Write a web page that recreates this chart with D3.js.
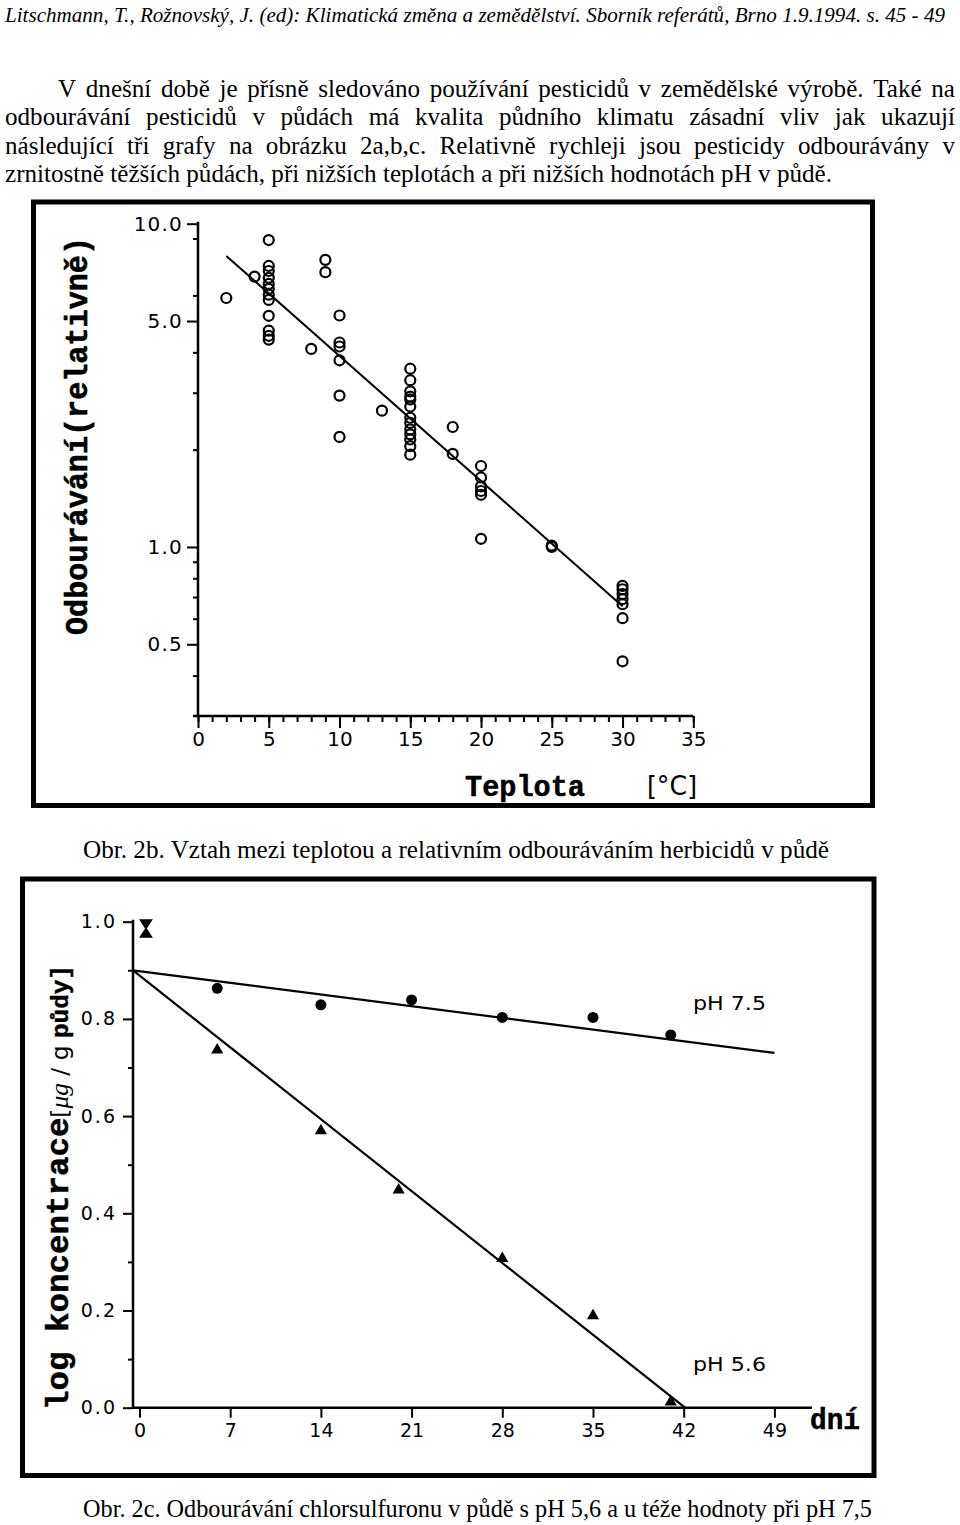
<!DOCTYPE html>
<html><head><meta charset="utf-8">
<script src="https://cdn.jsdelivr.net/npm/d3@7"></script>
<style>body{margin:0;background:#fff}svg{display:block}</style>
</head><body>
<svg id="c" width="960" height="1525"></svg>
<script>
// ---------- Texts ----------
const headerText = "Litschmann, T., Rožnovský, J. (ed): Klimatická změna a zemědělství. Sborník referátů, Brno 1.9.1994. s. 45 - 49";
const paragraphLines = [
  "V dnešní době je přísně sledováno používání pesticidů v zemědělské výrobě. Také na",
  "odbourávání pesticidů v půdách má kvalita půdního klimatu zásadní vliv jak ukazují",
  "následující tři grafy na obrázku 2a,b,c. Relativně rychleji jsou pesticidy odbourávány v",
  "zrnitostně těžších půdách, při nižších teplotách a při nižších hodnotách pH v půdě."
];
const caption2b = "Obr. 2b. Vztah mezi teplotou a relativním odbouráváním herbicidů v půdě";
const caption2c = "Obr. 2c. Odbourávání chlorsulfuronu v půdě s pH 5,6 a u téže hodnoty při pH 7,5";

// ---------- Chart 2b data (temperature vs relative degradation, log axis) ----------
const tempC = [2, 4,
  5,5,5,5,5,5,5,5,5,5,5,5,
  8, 9,9,
  10,10,10,10,10,10,
  13,
  15,15,15,15,15,15,15,15,15,15,15,15,15,
  18,18,
  20,20,20,20,20,20,
  25,25,
  30,30,30,30,30,30,30];
const relDecay = [5.89, 6.86,
  8.9,7.40,7.14,6.80,6.51,6.29,6.03,5.81,5.19,4.67,4.50,4.38,
  4.10, 7.73,7.08,
  5.20,4.29,4.17,3.78,2.94,2.19,
  2.64,
  3.56,3.28,3.03,2.92,2.86,2.72,2.51,2.42,2.31,2.23,2.15,2.05,1.93,
  2.35,1.94,
  1.78,1.64,1.54,1.49,1.45,1.06,
  1.00,1.01,
  0.758,0.740,0.715,0.690,0.665,0.602,0.443];
const fitTemp = [2, 30];
const fitDecay = [7.95, 0.656];
const tempTicks = [0,5,10,15,20,25,30,35];
const tempMinorTicks = d3.range(0, 36, 1);
const decayTicks = [10, 5, 1, 0.5];
const decayMinorTicks = [9, 6, 4, 3, 2, 0.9, 0.8, 0.7, 0.6, 0.4];
const decayAxisMin = 0.3;

// ---------- Chart 2c data (days vs log concentration) ----------
const days75 = [6, 14, 21, 28, 35, 41];
const conc75 = [0.863, 0.829, 0.839, 0.803, 0.803, 0.767];
const days56 = [6, 14, 20, 28, 35, 41];
const conc56 = [0.736, 0.570, 0.448, 0.307, 0.189, 0.012];
const startDay = [0.5];
const startConc = [0.986];
const fit75Days = [-0.5, 49];
const fit75Conc = [0.9, 0.73];
const fit56Days = [-0.5, 42.1];
const fit56Conc = [0.9, 0.0];
const dayTicks = [0, 7, 14, 21, 28, 35, 42, 49];
const concTicks = [0, 0.2, 0.4, 0.6, 0.8, 1.0];
const concMinorTicks = [0.1, 0.3, 0.5, 0.7, 0.9];
const dayAxisEnd = 51.9;

// ---------- Drawing ----------
const svg = d3.select('#c');
const SERIF = "'Liberation Serif','Times New Roman',serif";
const SANS = "'DejaVu Sans',sans-serif";
const MONO = "'Liberation Mono','Courier New',monospace";

// header
svg.append('text').attr('x', 5).attr('y', 22)
  .attr('font-family', SERIF).attr('font-style', 'italic').attr('font-size', 21)
  .attr('textLength', 940).attr('lengthAdjust', 'spacingAndGlyphs')
  .text(headerText);

// paragraph (justified, slightly condensed Times)
(function () {
  const FS = 24.5;
  const probe = svg.append('g').attr('font-family', SERIF).attr('font-size', FS);
  const pw = paragraphLines[3].split(' ').map(wd => {
    const t = probe.append('text').text(wd); const w = t.node().getComputedTextLength(); return w;
  });
  const spaceT = probe.append('text').text('a a'); const sa = probe.append('text').text('aa');
  const spW = spaceT.node().getComputedTextLength() - sa.node().getComputedTextLength();
  probe.remove();
  const natural = d3.sum(pw) + spW * (pw.length - 1);
  const k = 827 / natural;
  const specs = [[58, 955, 97], [5, 955, 125], [5, 955, 153.5], [5, 832, 182]];
  paragraphLines.forEach((line, li) => {
    const [x0, x1, y] = specs[li];
    const words = line.split(' ');
    const g = svg.append('g').attr('font-family', SERIF).attr('font-size', FS);
    const nodes = words.map(wd => g.append('text').attr('y', y).text(wd));
    const widths = nodes.map(n => n.node().getComputedTextLength() * k);
    nodes.forEach((n, i) => n.attr('textLength', widths[i]).attr('lengthAdjust', 'spacingAndGlyphs'));
    const gap = (x1 - x0 - d3.sum(widths)) / (words.length - 1);
    let x = x0;
    nodes.forEach((n, i) => { n.attr('x', x); x += widths[i] + gap; });
  });
})();

// ===== Chart 2b =====
svg.append('rect').attr('x', 33.5).attr('y', 202).attr('width', 839).attr('height', 603.5)
  .attr('fill', 'none').attr('stroke', '#000').attr('stroke-width', 5);

const xT = d3.scaleLinear([0, 35], [198, 693.3]);
const yR = d3.scaleLog([decayAxisMin, 10], [716, 223.7]);

function styleAxis(g, fs, ls) {
  g.select('.domain').remove();
  g.selectAll('.tick line').attr('stroke', '#000').attr('stroke-width', 2);
  g.selectAll('.tick text').attr('fill', '#000').attr('font-family', SANS)
    .attr('font-size', fs).attr('letter-spacing', ls || 0);
}

const gxMinor = svg.append('g').attr('transform', 'translate(0,716)')
  .call(d3.axisBottom(xT).tickValues(tempMinorTicks).tickSize(6).tickFormat(''));
styleAxis(gxMinor, 20);
const gx = svg.append('g').attr('transform', 'translate(0,716)')
  .call(d3.axisBottom(xT).tickValues(tempTicks).tickSize(12).tickPadding(4).tickFormat(d3.format('d')));
styleAxis(gx, 20);

const gyMinor = svg.append('g').attr('transform', 'translate(198,0)')
  .call(d3.axisLeft(yR).tickValues(decayMinorTicks).tickSize(5).tickFormat(''));
styleAxis(gyMinor, 20);
const gy = svg.append('g').attr('transform', 'translate(198,0)')
  .call(d3.axisLeft(yR).tickValues(decayTicks).tickSize(11).tickPadding(4).tickFormat(d3.format('.1f')));
styleAxis(gy, 20, 1.2);

// axis lines
svg.append('line').attr('x1', 193).attr('x2', xT(35)).attr('y1', 716).attr('y2', 716)
  .attr('stroke', '#000').attr('stroke-width', 2.5);
svg.append('line').attr('x1', 198).attr('x2', 198).attr('y1', yR(10) - 2).attr('y2', 716)
  .attr('stroke', '#000').attr('stroke-width', 2.5);

// regression line
svg.append('path')
  .attr('d', d3.line().x(d => xT(d[0])).y(d => yR(d[1]))(d3.zip(fitTemp, fitDecay)))
  .attr('fill', 'none').attr('stroke', '#000').attr('stroke-width', 2);

// points
svg.append('g').selectAll('circle').data(d3.zip(tempC, relDecay)).join('circle')
  .attr('cx', d => xT(d[0])).attr('cy', d => yR(d[1])).attr('r', 5)
  .attr('fill', 'none').attr('stroke', '#000').attr('stroke-width', 2.2);

// titles
svg.append('text').attr('transform', 'translate(87,436) rotate(-90)')
  .attr('text-anchor', 'middle').attr('font-family', MONO).attr('font-weight', 'bold')
  .attr('font-size', 32).attr('textLength', 398).attr('lengthAdjust', 'spacingAndGlyphs')
  .attr('stroke', '#000').attr('stroke-width', 0.6)
  .text('Odbourávání(relativně)');
svg.append('text').attr('x', 465).attr('y', 796)
  .attr('font-family', MONO).attr('font-weight', 'bold').attr('font-size', 29)
  .attr('stroke', '#000').attr('stroke-width', 0.5)
  .attr('textLength', 120).attr('lengthAdjust', 'spacingAndGlyphs').text('Teplota');
svg.append('text').attr('x', 647).attr('y', 795)
  .attr('font-family', SANS).attr('font-size', 27)
  .attr('textLength', 50).attr('lengthAdjust', 'spacingAndGlyphs').text('[°C]');

// caption 2b
svg.append('text').attr('x', 83).attr('y', 858)
  .attr('font-family', SERIF).attr('font-size', 25)
  .attr('textLength', 746).attr('lengthAdjust', 'spacingAndGlyphs').text(caption2b);

// ===== Chart 2c =====
svg.append('rect').attr('x', 22.5).attr('y', 879).attr('width', 851.5).attr('height', 596.5)
  .attr('fill', 'none').attr('stroke', '#000').attr('stroke-width', 5);

const xD = d3.scaleLinear([-0.5, 49], [133, 774.4]);
const yC = d3.scaleLinear([0, 1], [1407.7, 921.7]);

const gx2 = svg.append('g').attr('transform', 'translate(0,1407.7)')
  .call(d3.axisBottom(xD).tickValues(dayTicks).tickSize(10).tickPadding(6).tickFormat(d3.format('d')));
styleAxis(gx2, 19);
const gy2Minor = svg.append('g').attr('transform', 'translate(133,0)')
  .call(d3.axisLeft(yC).tickValues(concMinorTicks).tickSize(5).tickFormat(''));
styleAxis(gy2Minor, 19);
const gy2 = svg.append('g').attr('transform', 'translate(133,0)')
  .call(d3.axisLeft(yC).tickValues(concTicks).tickSize(10).tickPadding(6).tickFormat(d3.format('.1f')));
styleAxis(gy2, 19, 2);

svg.append('line').attr('x1', 133).attr('x2', xD(dayAxisEnd)).attr('y1', yC(0)).attr('y2', yC(0))
  .attr('stroke', '#000').attr('stroke-width', 2.5);
svg.append('line').attr('x1', 133).attr('x2', 133).attr('y1', yC(1) - 2).attr('y2', yC(0))
  .attr('stroke', '#000').attr('stroke-width', 2.5);

const lineC = d3.line().x(d => xD(d[0])).y(d => yC(d[1]));
svg.append('path').attr('d', lineC(d3.zip(fit75Days, fit75Conc)))
  .attr('fill', 'none').attr('stroke', '#000').attr('stroke-width', 2.2);
svg.append('path').attr('d', lineC(d3.zip(fit56Days, fit56Conc)))
  .attr('fill', 'none').attr('stroke', '#000').attr('stroke-width', 2.2);

svg.append('g').selectAll('circle').data(d3.zip(days75, conc75)).join('circle')
  .attr('cx', d => xD(d[0])).attr('cy', d => yC(d[1])).attr('r', 5.5).attr('fill', '#000');
const tri = d3.symbol(d3.symbolTriangle).size(64);
svg.append('g').selectAll('path').data(d3.zip(days56, conc56)).join('path')
  .attr('transform', d => `translate(${xD(d[0])},${yC(d[1])})`).attr('d', tri).attr('fill', '#000');
svg.append('g').selectAll('path').data(d3.zip(startDay, startConc)).join('path')
  .attr('transform', d => `translate(${xD(d[0])},${yC(d[1])})`)
  .attr('d', 'M-5.5,-8.5H5.5L-5.5,8.5H5.5Z').attr('fill', '#000').attr('stroke', '#000').attr('stroke-width', 1.5);

svg.append('text').attr('x', 693).attr('y', 1010).attr('font-family', SANS).attr('font-size', 20)
  .attr('textLength', 73).attr('lengthAdjust', 'spacingAndGlyphs').text('pH  7.5');
svg.append('text').attr('x', 693).attr('y', 1371).attr('font-family', SANS).attr('font-size', 20)
  .attr('textLength', 73).attr('lengthAdjust', 'spacingAndGlyphs').text('pH  5.6');
svg.append('text').attr('x', 810).attr('y', 1429)
  .attr('font-family', MONO).attr('font-weight', 'bold').attr('font-size', 29)
  .attr('stroke', '#000').attr('stroke-width', 0.5)
  .attr('textLength', 50).attr('lengthAdjust', 'spacingAndGlyphs').text('dní');

// y title chart 2c
const yt = svg.append('text').attr('transform', 'translate(68,1410) rotate(-90)')
  .attr('text-anchor', 'start').attr('textLength', 445).attr('lengthAdjust', 'spacingAndGlyphs');
yt.append('tspan').attr('font-family', MONO).attr('font-weight', 'bold').attr('font-size', 32)
  .attr('stroke', '#000').attr('stroke-width', 0.5).text('log koncentrace');
yt.append('tspan').attr('font-family', SANS).attr('font-size', 23).text('[');
yt.append('tspan').attr('font-family', SERIF).attr('font-style', 'italic').attr('font-size', 25).text('μg');
yt.append('tspan').attr('font-family', SANS).attr('font-size', 23).text(' / g ');
yt.append('tspan').attr('font-family', MONO).attr('font-weight', 'bold').attr('font-size', 24)
  .attr('stroke', '#000').attr('stroke-width', 0.4).text('půdy]');

// caption 2c
svg.append('text').attr('x', 83).attr('y', 1517)
  .attr('font-family', SERIF).attr('font-size', 25)
  .attr('textLength', 789).attr('lengthAdjust', 'spacingAndGlyphs').text(caption2c);
</script>
</body></html>
